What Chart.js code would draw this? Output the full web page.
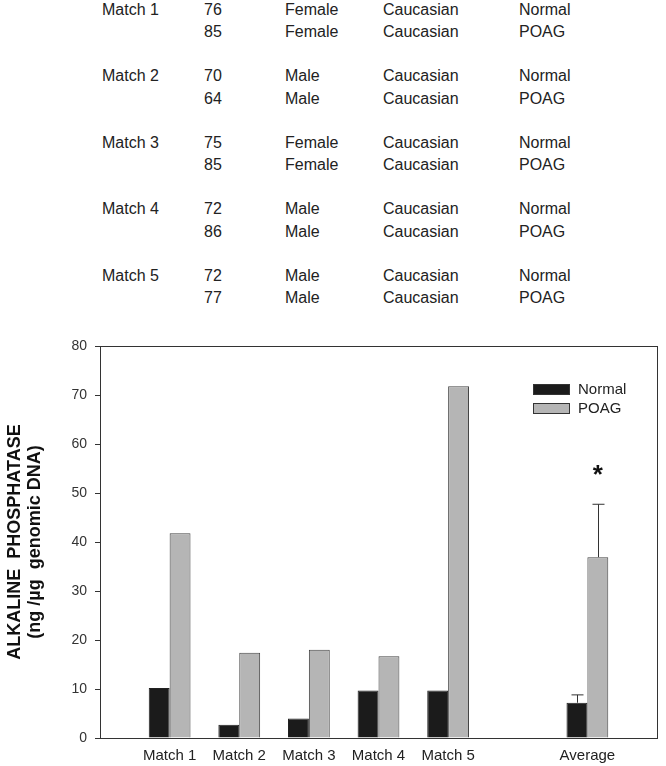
<!DOCTYPE html>
<html>
<head>
<meta charset="utf-8">
<script src="https://cdn.jsdelivr.net/npm/chart.js@4.4.0/dist/chart.umd.min.js"></script>
<style>
  body { margin: 0; background: #fff; width: 666px; height: 766px; overflow: hidden; position: relative; font-family: Arial, "Liberation Sans", sans-serif; }
  #subjects { position: absolute; left: 0; top: 0; width: 666px; height: 310px; }
  #subjects span { position: absolute; font-size: 16px; line-height: 20px; color: #222; white-space: nowrap; }
  #chartBox { position: absolute; left: 0; top: 320px; width: 666px; height: 446px; }
</style>
</head>
<body>
<div id="subjects"></div>
<div id="chartBox"><canvas id="alpChart"></canvas></div>
<script>
// subject table
const matchNames = ["Match 1", "Match 2", "Match 3", "Match 4", "Match 5"];
const ages = [[76, 85], [70, 64], [75, 85], [72, 86], [72, 77]];
const sexes = [["Female", "Female"], ["Male", "Male"], ["Female", "Female"], ["Male", "Male"], ["Male", "Male"]];
const races = [["Caucasian", "Caucasian"], ["Caucasian", "Caucasian"], ["Caucasian", "Caucasian"], ["Caucasian", "Caucasian"], ["Caucasian", "Caucasian"]];
const groups = ["Normal", "POAG"];

// chart data (blank slots keep the spacing of the original)
const categories = ["", "Match 1", "Match 2", "Match 3", "Match 4", "Match 5", "", "Average", ""];
const normalValues = [null, 10.2, 2.7, 4.0, 9.7, 9.7, null, 7.2, null];
const poagValues = [null, 41.8, 17.4, 18.0, 16.7, 71.8, null, 36.9, null];
const normalErr = [null, null, null, null, null, null, null, 1.6, null];
const poagErr = [null, null, null, null, null, null, null, 10.8, null];
const poagMark = [null, null, null, null, null, null, null, "*", null];
const yTicks = [0, 10, 20, 30, 40, 50, 60, 70, 80];

document.addEventListener("DOMContentLoaded", function () {

  const box = document.getElementById("subjects");
  const colX = [102, 204, 285, 383, 519];
  function put(text, x, y) {
    const s = document.createElement("span");
    s.textContent = text;
    s.style.left = x + "px";
    s.style.top = y + "px";
    box.appendChild(s);
  }
  matchNames.forEach(function (name, i) {
    const top = i * 66.4;
    put(name, colX[0], top);
    for (let r = 0; r < 2; r++) {
      const y = top + r * 22.4;
      put(String(ages[i][r]), colX[1], y);
      put(sexes[i][r], colX[2], y);
      put(races[i][r], colX[3], y);
      put(groups[r], colX[4], y);
    }
  });

  const fontFam = "Arial, 'Liberation Sans', sans-serif";

  // frame + error bars + asterisk + legend
  const extras = {
    id: "extras",
    afterDatasetsDraw(chart) {
      const c = chart.ctx;
      const area = chart.chartArea;
      const yScale = chart.scales.y;
      c.save();
      c.strokeStyle = "#333";
      c.lineWidth = 1;
      c.strokeRect(Math.round(area.left) + 0.5, Math.round(area.top) + 0.5,
        Math.round(area.right - area.left), Math.round(area.bottom - area.top));

      const errs = [normalErr, poagErr];
      errs.forEach(function (err, d) {
        const meta = chart.getDatasetMeta(d);
        const vals = chart.data.datasets[d].data;
        err.forEach(function (e, j) {
          if (e == null) return;
          const bar = meta.data[j];
          const x = Math.round(bar.x) + 0.5;
          const yEnd = yScale.getPixelForValue(vals[j] + e);
          c.beginPath();
          c.moveTo(x, bar.y);
          c.lineTo(x, yEnd);
          c.moveTo(x - 6, yEnd);
          c.lineTo(x + 6, yEnd);
          c.stroke();
        });
      });

      const pMeta = chart.getDatasetMeta(1);
      c.fillStyle = "#111";
      c.font = "bold 26px " + fontFam;
      c.textAlign = "center";
      c.textBaseline = "middle";
      poagMark.forEach(function (m, j) {
        if (!m) return;
        c.fillText(m, pMeta.data[j].x, yScale.getPixelForValue(53.5));
      });

      // legend inside the plot
      c.font = "15px " + fontFam;
      c.textAlign = "left";
      chart.data.datasets.forEach(function (ds, i) {
        const bx = area.right - 124;
        const by = area.top + 38 + i * 19;
        c.fillStyle = ds.backgroundColor;
        c.fillRect(bx, by, 37, 11);
        c.strokeStyle = "#333";
        c.strokeRect(bx + 0.5, by + 0.5, 36, 10);
        c.fillStyle = "#222";
        c.fillText(ds.label, bx + 45, by + 6);
      });
      c.restore();
    }
  };

  const ctx = document.getElementById("alpChart").getContext("2d");
  new Chart(ctx, {
    type: "bar",
    data: {
      labels: categories,
      datasets: [{
        label: "Normal",
        data: normalValues,
        backgroundColor: "#1b1b1b",
        borderColor: "#222",
        borderWidth: 1
      }, {
        label: "POAG",
        data: poagValues,
        backgroundColor: "#b5b5b5",
        borderColor: "#444",
        borderWidth: 1
      }]
    },
    options: {
      responsive: true,
      maintainAspectRatio: false,
      animation: false,
      layout: { padding: { top: 26, right: 8, bottom: 0, left: 0 } },
      datasets: { bar: { categoryPercentage: 0.6, barPercentage: 1 } },
      plugins: {
        legend: { display: false },
        tooltip: { enabled: false }
      },
      scales: {
        x: {
          offset: false,
          afterFit(scale) { scale.height = 28; },
          grid: { display: false, drawTicks: false, offset: false },
          border: { display: true, color: "#333" },
          ticks: {
            autoSkip: false,
            maxRotation: 0,
            padding: 9,
            color: "#222",
            font: { family: fontFam, size: 15 }
          }
        },
        y: {
          min: 0,
          max: 80,
          afterBuildTicks(scale) {
            scale.ticks = yTicks.map(function (v) { return { value: v }; });
          },
          afterFit(scale) { scale.width = 100; },
          grid: { drawOnChartArea: false, drawTicks: true, tickLength: 5, color: "#333" },
          border: { display: true, color: "#333" },
          ticks: {
            padding: 8,
            color: "#333",
            font: { family: fontFam, size: 14 }
          },
          title: {
            display: true,
            text: ["ALKALINE  PHOSPHATASE", "(ng /\u00b5g  genomic DNA)"],
            color: "#111",
            padding: { top: 5, bottom: 0 },
            font: { family: fontFam, size: 18, weight: "bold", lineHeight: 1.1 }
          }
        }
      }
    },
    plugins: [extras]
  });
});
</script>
</body>
</html>
